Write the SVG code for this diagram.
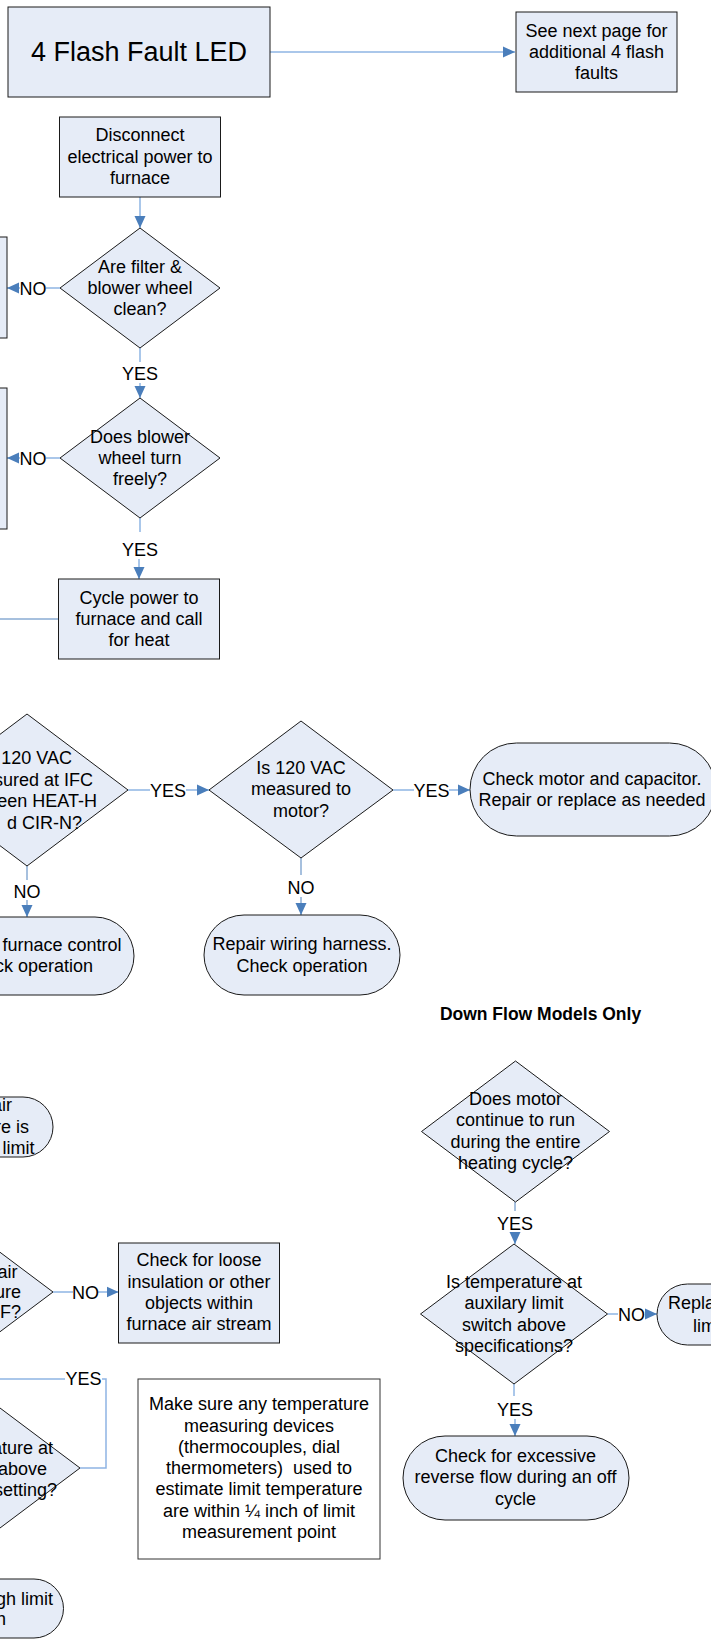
<svg xmlns="http://www.w3.org/2000/svg" width="711" height="1640" viewBox="0 0 711 1640">
<style>
.n{fill:#E6ECF7;stroke:#1a1a1a;stroke-width:1}
.w{fill:#ffffff;stroke:#333333;stroke-width:1}
.t{font-family:"Liberation Sans",Arial,sans-serif;font-size:18px;fill:#000;text-anchor:middle}
.e{text-anchor:end}
.s{text-anchor:start}
.c{fill:none;stroke:#8EB4E3;stroke-width:1.5}
.d{fill:none;stroke:#4F81BD;stroke-width:1}
</style>
<defs>
<marker id="ah" markerWidth="12" markerHeight="12" refX="12" refY="6" orient="auto" markerUnits="userSpaceOnUse"><path d="M0,0.5 L12,6 L0,11.5 z" fill="#4A7EBB"/></marker>
</defs>
<g id="connectors">
<line class="c" x1="270" y1="52" x2="515" y2="52" marker-end="url(#ah)"/>
<line class="c" x1="140" y1="197" x2="140" y2="228" marker-end="url(#ah)"/>
<line class="c" x1="60" y1="288" x2="46" y2="288"/>
<line class="c" x1="20" y1="288" x2="7" y2="288" marker-end="url(#ah)"/>
<text class="t" x="33" y="294.5">NO</text>
<line class="c" x1="140" y1="348" x2="140" y2="362"/>
<line class="c" x1="140" y1="383" x2="140" y2="398" marker-end="url(#ah)"/>
<text class="t" x="140" y="379.5">YES</text>
<line class="c" x1="60" y1="458" x2="46" y2="458"/>
<line class="c" x1="20" y1="458" x2="7" y2="458" marker-end="url(#ah)"/>
<text class="t" x="33" y="464.5">NO</text>
<line class="c" x1="140" y1="518" x2="140" y2="532"/>
<line class="c" x1="139" y1="559" x2="139" y2="579" marker-end="url(#ah)"/>
<text class="t" x="140" y="555.5">YES</text>
<line class="d" x1="0" y1="619" x2="58.5" y2="619"/>
<line class="c" x1="128" y1="790" x2="150" y2="790"/>
<line class="c" x1="186" y1="790" x2="209" y2="790" marker-end="url(#ah)"/>
<text class="t" x="168" y="796.5">YES</text>
<line class="c" x1="393" y1="790" x2="414" y2="790"/>
<line class="c" x1="449" y1="790" x2="470" y2="790" marker-end="url(#ah)"/>
<text class="t" x="431.5" y="796.5">YES</text>
<line class="d" x1="27" y1="866" x2="27" y2="880"/>
<line class="d" x1="27" y1="900" x2="27" y2="917" marker-end="url(#ah)"/>
<text class="t" x="27" y="897.5">NO</text>
<line class="d" x1="301" y1="858" x2="301" y2="875"/>
<line class="d" x1="301" y1="897" x2="301" y2="915" marker-end="url(#ah)"/>
<text class="t" x="301" y="893.5">NO</text>
<line class="c" x1="53" y1="1292" x2="73" y2="1292"/>
<line class="c" x1="98" y1="1292" x2="118.5" y2="1292" marker-end="url(#ah)"/>
<text class="t" x="85.5" y="1298.5">NO</text>
<line class="d" x1="515" y1="1202" x2="515" y2="1211"/>
<line class="d" x1="515" y1="1232" x2="515" y2="1244" marker-end="url(#ah)"/>
<text class="t" x="515" y="1229.5">YES</text>
<line class="c" x1="607.5" y1="1314" x2="618" y2="1314"/>
<line class="c" x1="645" y1="1314" x2="657" y2="1314" marker-end="url(#ah)"/>
<text class="t" x="631.5" y="1320.5">NO</text>
<line class="c" x1="514" y1="1384" x2="514" y2="1396"/>
<line class="c" x1="515" y1="1419" x2="515" y2="1436" marker-end="url(#ah)"/>
<text class="t" x="515" y="1415.5">YES</text>
<polyline class="c" points="80,1468 106,1468 106,1379 102,1379"/>
<line class="c" x1="65" y1="1379" x2="0" y2="1379"/>
<text class="t" x="83.5" y="1385">YES</text>
</g>
<g id="title">
<rect class="n" x="8" y="7" width="262" height="90"/>
<text class="t" x="139" y="61" style="font-size:27px">4 Flash Fault LED</text>
</g>
<g id="next-page">
<rect class="n" x="516" y="12" width="161" height="80"/>
<text class="t" x="596.5" y="37">See next page for</text>
<text class="t" x="596.5" y="58">additional 4 flash</text>
<text class="t" x="596.5" y="79">faults</text>
</g>
<g id="disconnect">
<rect class="n" x="59.5" y="117" width="161" height="80"/>
<text class="t" x="140" y="141">Disconnect</text>
<text class="t" x="140" y="163">electrical power to</text>
<text class="t" x="140" y="184">furnace</text>
</g>
<g id="left-box-1"><rect class="n" x="-100" y="237" width="107" height="101"/></g>
<g id="left-box-2"><rect class="n" x="-100" y="388" width="107" height="141"/></g>
<g id="filter-clean">
<polygon class="n" points="140,228 220,288 140,348 60,288"/>
<text class="t" x="140" y="273">Are filter &amp;</text>
<text class="t" x="140" y="294">blower wheel</text>
<text class="t" x="140" y="315">clean?</text>
</g>
<g id="wheel-turn">
<polygon class="n" points="140,398 220,458 140,518 60,458"/>
<text class="t" x="140" y="443">Does blower</text>
<text class="t" x="140" y="464">wheel turn</text>
<text class="t" x="140" y="485">freely?</text>
</g>
<g id="cycle-power">
<rect class="n" x="58.5" y="579" width="161" height="80"/>
<text class="t" x="139" y="604">Cycle power to</text>
<text class="t" x="139" y="625">furnace and call</text>
<text class="t" x="139" y="646">for heat</text>
</g>
<g id="vac-ifc">
<polygon class="n" points="27,714 128,790 27,866 -74,790"/>
<text class="t e" x="72" y="764">120 VAC</text>
<text class="t e" x="93" y="786">sured at IFC</text>
<text class="t e" x="97" y="807">een HEAT-H</text>
<text class="t e" x="82" y="829">d CIR-N?</text>
</g>
<g id="vac-motor">
<polygon class="n" points="301,721 393,790 301,858 209,790"/>
<text class="t" x="301" y="774">Is 120 VAC</text>
<text class="t" x="301" y="795">measured to</text>
<text class="t" x="301" y="817">motor?</text>
</g>
<g id="check-motor">
<rect class="n" x="470" y="743" width="246" height="93" rx="46.5"/>
<text class="t" x="592" y="785">Check motor and capacitor.</text>
<text class="t" x="592" y="806">Repair or replace as needed</text>
</g>
<g id="replace-control">
<rect class="n" x="-80" y="917" width="214" height="78" rx="39"/>
<text class="t e" x="121.5" y="951">furnace control</text>
<text class="t e" x="93" y="972">ck operation</text>
</g>
<g id="repair-harness">
<rect class="n" x="204" y="915" width="196" height="80" rx="40"/>
<text class="t" x="302" y="950">Repair wiring harness.</text>
<text class="t" x="302" y="972">Check operation</text>
</g>
<g id="downflow-label">
<text class="t" x="540.5" y="1020" style="font-weight:bold;font-size:17.5px">Down Flow Models Only</text>
</g>
<g id="left-round">
<rect class="n" x="-100" y="1097" width="153" height="60" rx="30"/>
<text class="t e" x="12" y="1111">air</text>
<text class="t e" x="29" y="1133">re is</text>
<text class="t e" x="34.5" y="1154">limit</text>
</g>
<g id="motor-run">
<polygon class="n" points="515.5,1061 609.5,1131.5 515.5,1202 421.5,1131.5"/>
<text class="t" x="515.5" y="1105">Does motor</text>
<text class="t" x="515.5" y="1126">continue to run</text>
<text class="t" x="515.5" y="1148">during the entire</text>
<text class="t" x="515.5" y="1169">heating cycle?</text>
</g>
<g id="air-temp">
<polygon class="n" points="-47,1217 53,1292 -47,1367 -147,1292"/>
<text class="t e" x="17.5" y="1278">air</text>
<text class="t e" x="21" y="1298">ure</text>
<text class="t e" x="21" y="1318">F?</text>
</g>
<g id="loose-insulation">
<rect class="n" x="118.5" y="1243" width="161" height="100"/>
<text class="t" x="199" y="1266">Check for loose</text>
<text class="t" x="199" y="1288">insulation or other</text>
<text class="t" x="199" y="1309">objects within</text>
<text class="t" x="199" y="1330">furnace air stream</text>
</g>
<g id="aux-limit">
<polygon class="n" points="514,1244 607.5,1314 514,1384 420.5,1314"/>
<text class="t" x="514" y="1288">Is temperature at</text>
<text class="t" x="514" y="1309">auxilary limit</text>
<text class="t" x="514" y="1331">switch above</text>
<text class="t" x="514" y="1352">specifications?</text>
</g>
<g id="replace-aux">
<rect class="n" x="657" y="1284" width="120" height="61" rx="30.5"/>
<text class="t s" x="668" y="1309">Repla</text>
<text class="t s" x="693" y="1332">lim</text>
</g>
<g id="limit-temp">
<polygon class="n" points="-20,1393 80,1468 -20,1543 -120,1468"/>
<text class="t e" x="53" y="1454">ature at</text>
<text class="t e" x="47" y="1475">above</text>
<text class="t e" x="57" y="1496">setting?</text>
</g>
<g id="note">
<rect class="w" x="138" y="1379" width="242" height="180"/>
<text class="t" x="259" y="1410">Make sure any temperature</text>
<text class="t" x="259" y="1432">measuring devices</text>
<text class="t" x="259" y="1453">(thermocouples, dial</text>
<text class="t" x="259" y="1474" xml:space="preserve">thermometers)  used to</text>
<text class="t" x="259" y="1495">estimate limit temperature</text>
<text class="t" x="259" y="1517">are within ¼ inch of limit</text>
<text class="t" x="259" y="1538">measurement point</text>
</g>
<g id="reverse-flow">
<rect class="n" x="403" y="1436" width="226" height="84" rx="42"/>
<text class="t" x="515.5" y="1462">Check for excessive</text>
<text class="t" x="515.5" y="1483">reverse flow during an off</text>
<text class="t" x="515.5" y="1505">cycle</text>
</g>
<g id="replace-high-limit">
<rect class="n" x="-100" y="1579" width="163.5" height="59" rx="29.5"/>
<text class="t e" x="53" y="1605">gh limit</text>
<text class="t e" x="6" y="1625">h</text>
</g>
</svg>
